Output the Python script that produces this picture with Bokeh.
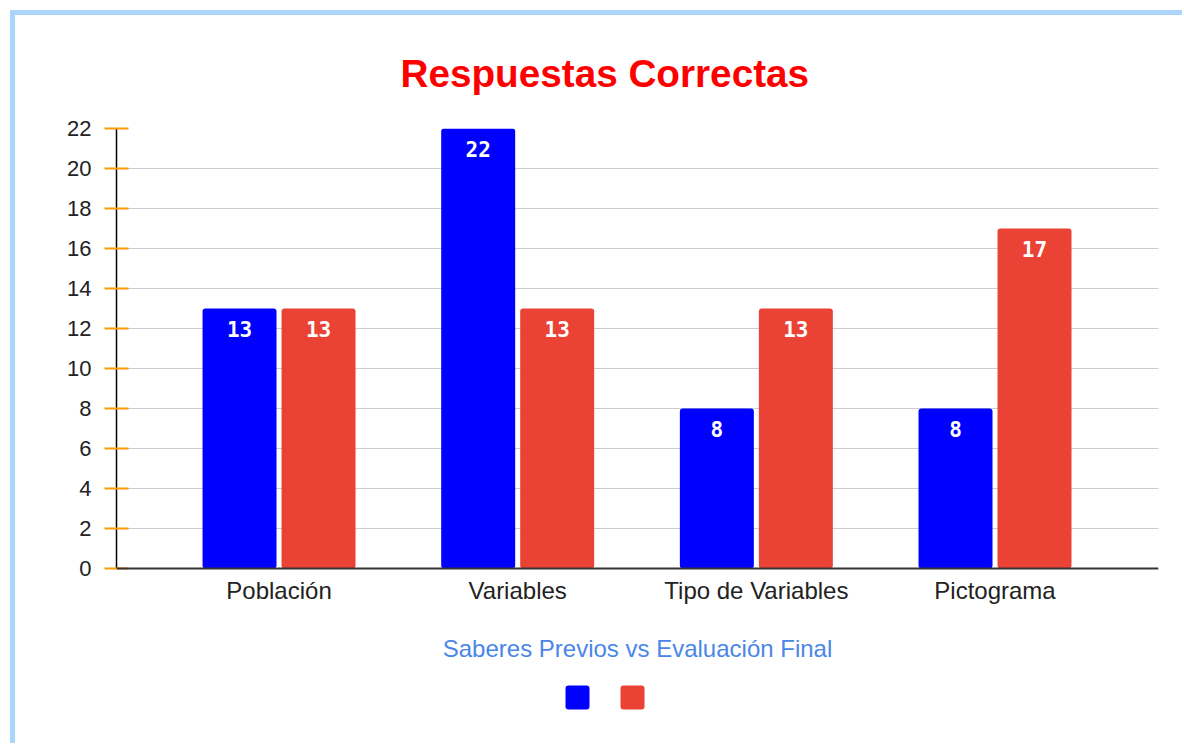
from bokeh.plotting import figure
from bokeh.models import Range1d, FixedTicker, ColumnDataSource, Span
from bokeh.core.properties import value
from bokeh.embed import file_html
from bokeh.resources import INLINE

categories = ["Población", "Variables", "Tipo de Variables", "Pictograma"]
series_names = ["Saberes Previos", "Evaluación Final"]
saberes_previos = [13, 22, 8, 8]
evaluacion_final = [13, 13, 13, 17]
y_ticks = [0, 2, 4, 6, 8, 10, 12, 14, 16, 18, 20, 22]
title_text = "Respuestas Correctas"
x_title = "Saberes Previos vs Evaluación Final"

BLUE = "#0000ff"
RED = "#ea4335"
EDGE = "5px solid #acd5fb"
FONT = "Liberation Sans"

idx = list(range(len(categories)))
off = 0.1655
bw = 0.31

# layout geometry (pixels)
FRAME_W, FRAME_H = 1042, 615
X0, X1 = -0.681, 3.685
PX_PER_X = FRAME_W / (X1 - X0)
PX_PER_Y = 20.0
Y_TOP = 22
Y_BOTTOM = Y_TOP - FRAME_H / PX_PER_Y   # extra room below 0 for the labels and key

p = figure(frame_width=FRAME_W, frame_height=FRAME_H, output_backend="svg", toolbar_location=None,
           x_range=Range1d(X0, X1), y_range=Range1d(Y_BOTTOM, Y_TOP), x_axis_location=None,
           min_border_left=101, min_border_right=24, min_border_top=112, min_border_bottom=0,
           background_fill_color="white", border_fill_color="white",
           styles={"margin-left": "10px", "margin-top": "10px",
                   "border-left": EDGE, "border-top": EDGE})
p.outline_line_color = None

src_b = ColumnDataSource(dict(x=[i - off for i in idx], top=saberes_previos,
                              lab=[str(v) for v in saberes_previos]))
src_r = ColumnDataSource(dict(x=[i + off for i in idx], top=evaluacion_final,
                              lab=[str(v) for v in evaluacion_final]))

# grids
p.xgrid.grid_line_color = None
p.ygrid.grid_line_color = "#cccccc"
p.ygrid.grid_line_width = 1
p.ygrid.ticker = FixedTicker(ticks=y_ticks)

p.vbar(x="x", top="top", width=bw, bottom=0, source=src_b, fill_color=BLUE,
       line_color=None, border_radius=3)
p.vbar(x="x", top="top", width=bw, bottom=0, source=src_r, fill_color=RED,
       line_color=None, border_radius=3)

for s in (src_b, src_r):
    p.text(x="x", y="top", text="lab", source=s, text_color="white",
           text_font=value("DejaVu Sans Mono"), text_font_style="bold",
           text_font_size="21px", text_align="center", text_baseline="middle",
           y_offset=20)

# category axis baseline and labels
p.add_layout(Span(location=0, dimension="width", line_color="#333333", line_width=2))
p.text(x=idx, y=[0] * len(idx), text=categories, text_color="#222222",
       text_font=value(FONT), text_font_size="24px", text_align="center",
       text_baseline="middle", y_offset=22)

x_mid = (X0 + X1) / 2
p.text(x=[x_mid], y=[0], text=[x_title], text_color="#4a86e8",
       text_font=value(FONT), text_font_size="24px", text_align="center",
       text_baseline="middle", y_offset=80)

# key squares (series colours), placed by pixel offsets from the frame centre
key_px = [-60, -5]
key_src = ColumnDataSource(dict(x=[x_mid + d / PX_PER_X for d in key_px],
                                y=[-129 / PX_PER_Y] * len(series_names),
                                c=[BLUE, RED], name=series_names))
p.rect(x="x", y="y", width=24, height=24, width_units="screen", height_units="screen",
       fill_color="c", line_color=None, border_radius=3, source=key_src)

# title
p.title.text = title_text
p.title.text_color = "#ff0000"
p.title.text_font = FONT
p.title.text_font_style = "bold"
p.title.text_font_size = "38.7px"
p.title.align = "left"
p.title.offset = 284
p.title.standoff = 68

# y axis
ya = p.yaxis[0]
ya.ticker = FixedTicker(ticks=y_ticks)
ya.bounds = (0, 22)
ya.axis_line_color = "black"
ya.axis_line_width = 1.5
ya.major_tick_line_color = "#ff9900"
ya.major_tick_line_width = 2
ya.major_tick_out = 12
ya.major_tick_in = 12
ya.minor_tick_line_color = None
ya.major_label_standoff = 13
ya.major_label_text_font = FONT
ya.major_label_text_font_size = "22px"
ya.major_label_text_color = "#222222"

open("out.html", "w").write(file_html(p, INLINE))
